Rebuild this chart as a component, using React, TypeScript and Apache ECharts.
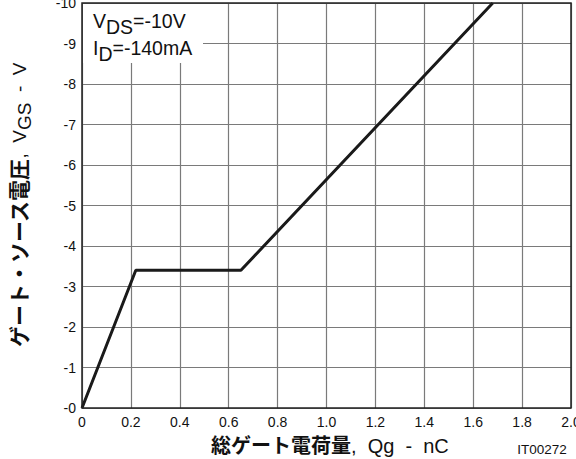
import React, { useEffect, useRef } from "react";
import * as echarts from "echarts";

const qg = [0, 0.22, 0.65, 1.68];
const vgs = [0, -3.4, -3.4, -10];
const xTicks = [0, 0.2, 0.4, 0.6, 0.8, 1.0, 1.2, 1.4, 1.6, 1.8, 2.0];
const yMin = -10;
const yMax = 0;

export default function App() {
  const ref = useRef<HTMLDivElement>(null);
  useEffect(() => {
    if (!ref.current) return;
    const chart = echarts.init(ref.current, undefined, { renderer: "svg" });
    const font = "Liberation Sans, Arial, sans-serif";
    const cjk = "Noto Sans CJK JP, sans-serif";
    chart.setOption({
      animation: false,
      backgroundColor: "#fff",
      grid: { left: 82, right: 5, top: 3, bottom: 51, containLabel: false, outerBoundsMode: "none" },
      xAxis: {
        type: "value",
        min: xTicks[0],
        max: xTicks[xTicks.length - 1],
        interval: 0.2,
        axisLine: { show: false },
        axisTick: { show: false },
        splitLine: { show: true, lineStyle: { color: "#7a7a7a", width: 1.2 } },
        axisLabel: {
          color: "#111",
          fontFamily: font,
          fontSize: 14,
          margin: 7,
          formatter: (v: number) => (v === 0 ? "0" : v.toFixed(1)),
        },
      },
      yAxis: {
        type: "value",
        min: yMin,
        max: yMax,
        interval: 1,
        inverse: true,
        axisLine: { show: false },
        axisTick: { show: false },
        splitLine: { show: true, lineStyle: { color: "#7a7a7a", width: 1.2 } },
        axisLabel: {
          color: "#111",
          fontFamily: font,
          fontSize: 14,
          margin: 6,
          formatter: (v: number) => "-" + Math.abs(v),
        },
      },
      graphic: [
        {
          type: "rect",
          shape: { x: 83, y: 4, width: 120, height: 59 },
          style: { fill: "#fff" },
          z: 10,
        },
        {
          type: "text",
          x: 93,
          y: 11,
          z: 11,
          style: {
            text: "{n|V}{s|DS}{n|=-10V}\n{n|I}{s|D}{n|=-140mA}",
            rich: {
              n: { fontFamily: font, fontSize: 19.5, fill: "#111", verticalAlign: "top", lineHeight: 27 },
              s: { fontFamily: font, fontSize: 19.5, fill: "#111", verticalAlign: "top", lineHeight: 27, padding: [6, 0, 0, 0] },
            },
          },
        },
        {
          type: "rect",
          shape: { x: 82, y: 3, width: 489, height: 405 },
          style: { fill: "none", stroke: "#222", lineWidth: 1.5 },
          z: 12,
        },
        {
          type: "text",
          x: 20,
          y: 205,
          rotation: Math.PI / 2,
          style: {
            text: "{b|ゲート・ソース電圧}{r|,  V}{s|GS}{r|  -  V}",
            align: "center",
            verticalAlign: "middle",
            rich: {
              b: { fontFamily: cjk, fontWeight: "bold", fontSize: 21, fill: "#111", verticalAlign: "top", lineHeight: 26 },
              r: { fontFamily: font, fontSize: 19, fill: "#111", verticalAlign: "top", lineHeight: 26, padding: [3, 0, 0, 0] },
              s: { fontFamily: font, fontSize: 19, fill: "#111", verticalAlign: "top", lineHeight: 26, padding: [8, 0, 0, 0] },
            },
          },
        },
        {
          type: "text",
          x: 351,
          y: 444,
          style: {
            text: "総ゲート電荷量",
            align: "right",
            verticalAlign: "middle",
            fontFamily: cjk,
            fontWeight: "bold",
            fontSize: 20,
            fill: "#111",
          },
        },
        {
          type: "text",
          x: 351,
          y: 446,
          style: {
            text: ",  Qg  -  nC",
            align: "left",
            verticalAlign: "middle",
            fontFamily: font,
            fontSize: 20,
            fill: "#111",
          },
        },
        {
          type: "text",
          x: 542,
          y: 449,
          style: {
            text: "IT00272",
            align: "center",
            verticalAlign: "middle",
            fontFamily: font,
            fontSize: 13.5,
            fill: "#111",
          },
        },
      ],
      series: [
        {
          type: "line",
          data: qg.map((x, i) => [x, vgs[i]]),
          showSymbol: false,
          lineStyle: { color: "#1a1a1a", width: 3 },
          z: 5,
        },
      ],
    });
    return () => chart.dispose();
  }, []);
  return (
    <div
      ref={ref}
      style={{ position: "fixed", left: 0, top: 0, width: 576, height: 459 }}
    />
  );
}
